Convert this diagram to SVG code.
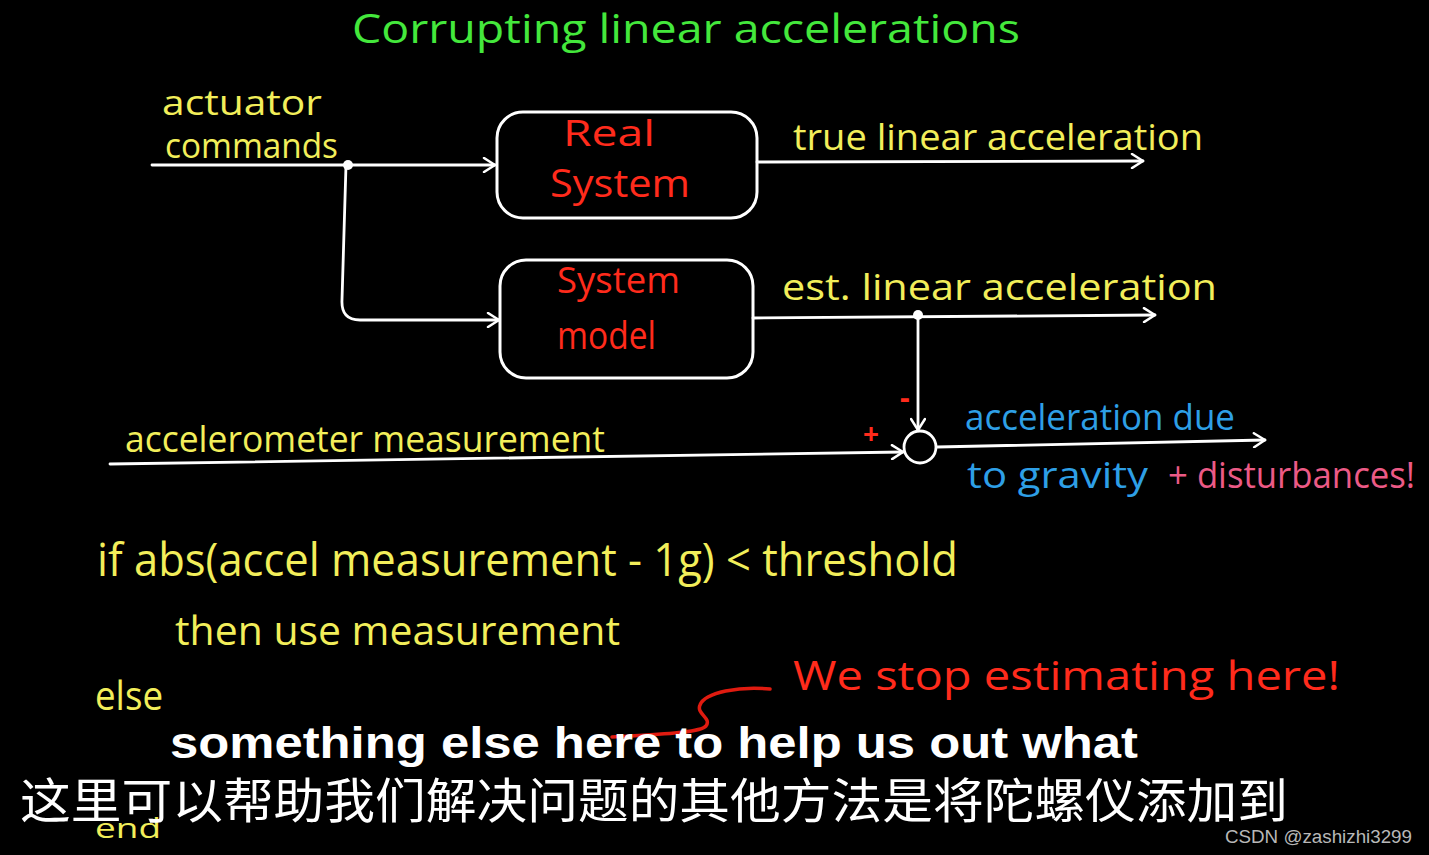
<svg xmlns="http://www.w3.org/2000/svg" width="1429" height="855" viewBox="0 0 1429 855">
<defs>
<marker id="arr" markerWidth="16" markerHeight="16" refX="13" refY="8" orient="auto" markerUnits="userSpaceOnUse">
<path d="M2,1 L13,8 L2,15" fill="none" stroke="#fff" stroke-width="2.5" stroke-linecap="round" stroke-linejoin="round"/>
</marker>
<style>
.hand{font-family:"Open Sans","Liberation Sans",sans-serif;}
.y{fill:#f2ee5a;}
.r{fill:#ff2b1c;}
.b{fill:#2e9fe6;}
.p{fill:#ec5a86;}
.g{fill:#44e83c;}
.box{fill:none;stroke:#fff;stroke-width:3;}
.w{fill:none;stroke:#fff;stroke-width:2.8;stroke-linecap:round;}
.sub{font-family:"Liberation Sans",Arial,sans-serif;font-weight:bold;fill:#fff;}
.cn{font-family:"Noto Sans CJK SC","Liberation Sans",sans-serif;fill:#fff;}
</style>
</defs>
<rect width="1429" height="855" fill="#000"/>
<text class="hand g" x="352" y="43" font-size="40" textLength="668" lengthAdjust="spacingAndGlyphs">Corrupting  linear  accelerations</text>

<g id="connectors">
<path class="w" d="M152,165 L495,165" marker-end="url(#arr)"/>
<circle cx="348" cy="165" r="5" fill="#fff"/>
<path class="w" d="M346,165 L342,300 Q341,320 360,320 L499,320" marker-end="url(#arr)"/>
<path class="w" d="M757,162 L1143,161" marker-end="url(#arr)"/>
<path class="w" d="M753,318 L1155,315" marker-end="url(#arr)"/>
<circle cx="918" cy="315" r="5" fill="#fff"/>
<path class="w" d="M918,315 L918,430" marker-end="url(#arr)"/>
<path class="w" d="M110,464 L903,452" marker-end="url(#arr)"/>
<path class="w" d="M937,447 L1265,440" marker-end="url(#arr)"/>
</g>

<g id="real-system">
<rect class="box" x="497" y="112" width="260" height="106" rx="26"/>
<text class="hand r" x="563" y="146" font-size="36" textLength="92" lengthAdjust="spacingAndGlyphs">Real</text>
<text class="hand r" x="550" y="197" font-size="38" textLength="140" lengthAdjust="spacingAndGlyphs">System</text>
</g>

<g id="system-model">
<rect class="box" x="500" y="260" width="253" height="118" rx="26"/>
<text class="hand r" x="557" y="293" font-size="36" textLength="123" lengthAdjust="spacingAndGlyphs">System</text>
<text class="hand r" x="557" y="349" font-size="38" textLength="99" lengthAdjust="spacingAndGlyphs">model</text>
</g>

<g id="sum">
<circle cx="920" cy="447" r="16" fill="none" stroke="#fff" stroke-width="2.8"/>
<text class="hand r" x="900" y="408" font-size="30" font-weight="bold">-</text>
<text class="hand r" x="863" y="444" font-size="28" font-weight="bold">+</text>
</g>

<g id="labels">
<text class="hand y" x="162" y="115" font-size="34" textLength="160" lengthAdjust="spacingAndGlyphs">actuator</text>
<text class="hand y" x="165" y="158" font-size="34" textLength="173" lengthAdjust="spacingAndGlyphs">commands</text>
<text class="hand y" x="793" y="150" font-size="36" textLength="410" lengthAdjust="spacingAndGlyphs">true  linear  acceleration</text>
<text class="hand y" x="782" y="300" font-size="36" textLength="435" lengthAdjust="spacingAndGlyphs">est.  linear   acceleration</text>
<text class="hand y" x="125" y="452" font-size="36" textLength="480" lengthAdjust="spacingAndGlyphs">accelerometer  measurement</text>
<text class="hand b" x="965" y="430" font-size="36" textLength="270" lengthAdjust="spacingAndGlyphs">acceleration  due</text>
<text class="hand b" x="967" y="488" font-size="36" textLength="181" lengthAdjust="spacingAndGlyphs">to  gravity</text>
<text class="hand p" x="1168" y="488" font-size="36" textLength="247" lengthAdjust="spacingAndGlyphs">+ disturbances!</text>
</g>

<g id="pseudocode">
<text class="hand y" x="97" y="576" font-size="46" textLength="861" lengthAdjust="spacingAndGlyphs">if  abs(accel measurement - 1g) &lt;  threshold</text>
<text class="hand y" x="175" y="645" font-size="40" textLength="445" lengthAdjust="spacingAndGlyphs">then  use  measurement</text>
<text class="hand y" x="95" y="710" font-size="40" textLength="68" lengthAdjust="spacingAndGlyphs">else</text>
<text class="hand y" x="95" y="838" font-size="28" textLength="66" lengthAdjust="spacingAndGlyphs">end</text>
</g>

<g id="note">
<text class="hand r" x="793" y="690" font-size="40" textLength="547" lengthAdjust="spacingAndGlyphs">We   stop  estimating  here!</text>
<path d="M770,689 C740,686 705,692 700,705 C696,714 712,718 706,726 C700,733 660,734 612,737" fill="none" stroke="#e01b10" stroke-width="3.5" stroke-linecap="round"/>
</g>

<g id="subtitles">
<text class="sub" x="170" y="758" font-size="44" textLength="968" lengthAdjust="spacingAndGlyphs">something else here to help us out what</text>
<text class="cn" x="20" y="818" font-size="48" textLength="1268" lengthAdjust="spacingAndGlyphs">这里可以帮助我们解决问题的其他方法是将陀螺仪添加到</text>
<text x="1225" y="843" font-size="18" fill="#b8b8b8" font-family="Liberation Sans,Arial,sans-serif" textLength="187" lengthAdjust="spacingAndGlyphs">CSDN @zashizhi3299</text>
</g>
</svg>
